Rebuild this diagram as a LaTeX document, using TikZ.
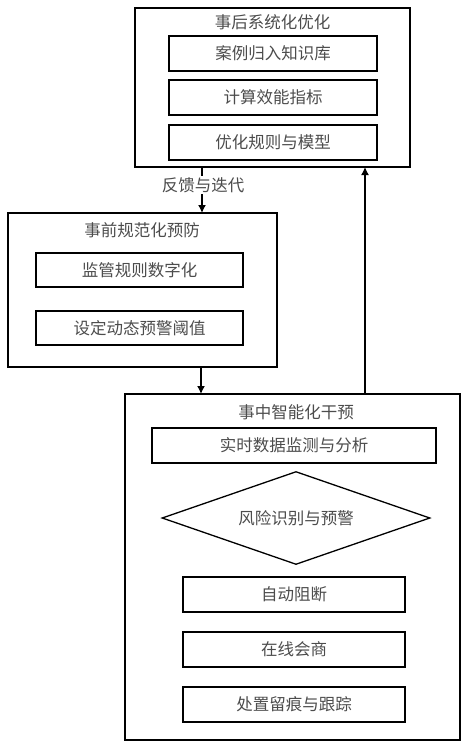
\documentclass[tikz,border=0pt]{standalone}
\usepackage{fontspec}
\setmainfont{Noto Sans CJK SC}
\usetikzlibrary{shapes.geometric,arrows.meta}
\begin{document}
\begin{tikzpicture}[x=1pt,y=-1pt,
  font=\fontsize{16.5}{19}\selectfont,
  outer/.style={draw, line width=1.6pt, rectangle, inner sep=0pt},
  inbox/.style={draw, line width=1.6pt, rectangle, inner sep=0pt, minimum height=35pt, text=black!70},
  ttl/.style={inner sep=0pt, text=black!70},
  dia/.style={draw, line width=1.3pt, diamond, aspect=2.88, inner sep=0pt, minimum width=268pt, minimum height=93pt, text=black!70},
  arr/.style={line width=1.4pt, -{Latex[length=8pt,width=8pt]}}
]
\useasboundingbox (0,0) rectangle (465,745);
% top group
\node[outer, minimum width=275pt, minimum height=159pt] (top) at (272.5,87.5) {};
\node[ttl] (toptitle) at (272.5,22) {事后系统化优化};
\node[inbox, minimum width=208pt] (t1) at (273,53.5) {案例归入知识库};
\node[inbox, minimum width=208pt] (t2) at (273,97.5) {计算效能指标};
\node[inbox, minimum width=208pt] (t3) at (273,142.5) {优化规则与模型};
% left group
\node[outer, minimum width=269pt, minimum height=154pt] (left) at (142.5,290) {};
\node[ttl] (lefttitle) at (142,230) {事前规范化预防};
\node[inbox, minimum width=207pt, minimum height=34pt] (l1) at (139.5,270) {监管规则数字化};
\node[inbox, minimum width=207pt, minimum height=34pt] (l2) at (139.5,328) {设定动态预警阈值};
% bottom group
\node[outer, minimum width=335pt, minimum height=346pt] (bot) at (292.5,567) {};
\node[ttl] (bottitle) at (296,412) {事中智能化干预};
\node[inbox, minimum width=284pt] (b1) at (294,445.5) {实时数据监测与分析};
\node[dia] (b2) at (296,518) {风险识别与预警};
\node[inbox, minimum width=222pt] (b3) at (294,594.5) {自动阻断};
\node[inbox, minimum width=222pt] (b4) at (294,649.5) {在线会商};
\node[inbox, minimum width=222pt] (b5) at (294,704.5) {处置留痕与跟踪};
% connectors
\coordinate (a1s) at (202,167);
\coordinate (a1e) at (202,213);
\draw[arr] (a1s) -- (a1e);
\node[ttl, fill=white, inner sep=1pt] (fb) at (203,185) {反馈与迭代};
\coordinate (a2s) at (201,367);
\coordinate (a2e) at (201,394);
\draw[arr] (a2s) -- (a2e);
\coordinate (a3s) at (365,394);
\coordinate (a3e) at (365,167);
\draw[arr] (a3s) -- (a3e);
\end{tikzpicture}
\end{document}
